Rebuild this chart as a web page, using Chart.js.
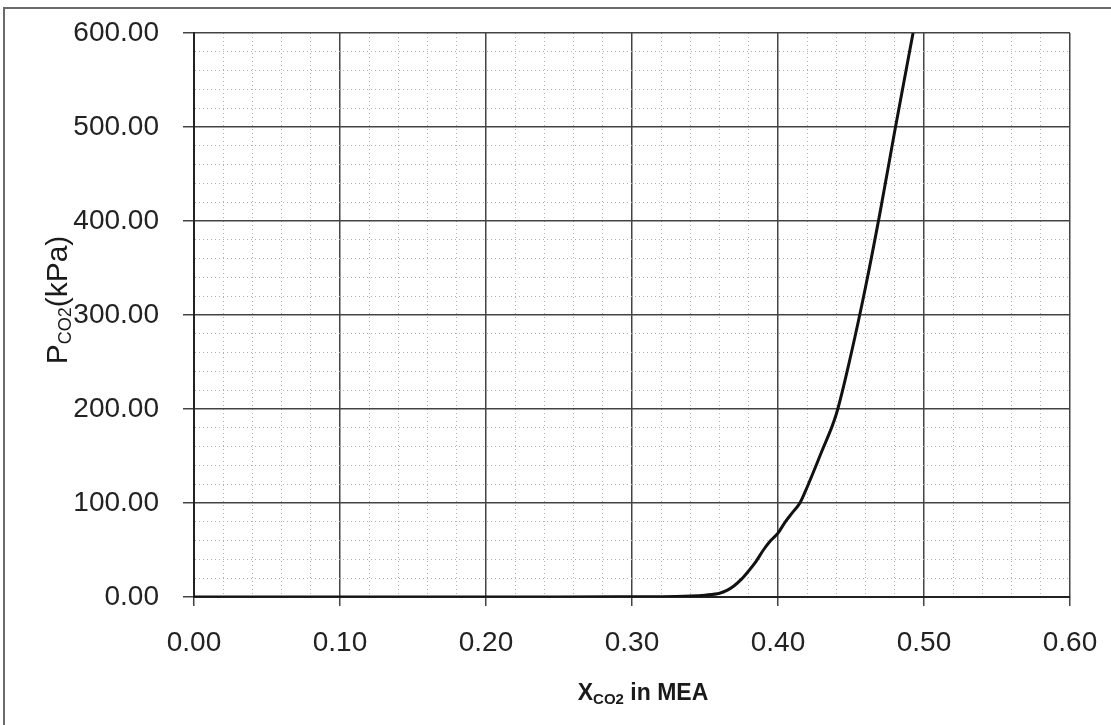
<!DOCTYPE html>
<html>
<head>
<meta charset="utf-8">
<script src="https://cdn.jsdelivr.net/npm/chart.js@4/dist/chart.umd.min.js"></script>
<style>
  html, body { margin: 0; padding: 0; background: #fff; }
  #wrap { width: 1111px; height: 725px; position: relative; }
</style>
</head>
<body>
<div id="wrap"><canvas id="c" width="1111" height="725"></canvas></div>
<script>
// ---- data ----
const xCO2 = [0.00, 0.05, 0.10, 0.15, 0.20, 0.25, 0.30, 0.33, 0.34, 0.35, 0.36, 0.365, 0.37, 0.375, 0.38, 0.385, 0.39, 0.395, 0.40, 0.405, 0.41, 0.415, 0.42, 0.43, 0.44, 0.45, 0.46, 0.47, 0.48, 0.4925];
const pCO2 = [0, 0, 0, 0, 0, 0, 0.3, 0.6, 1, 2, 4, 7, 12, 19, 28, 38, 50, 60, 68, 80, 90, 100, 117, 155, 195, 258, 330, 410, 496, 600];
const xTickLabels = ['0.00', '0.10', '0.20', '0.30', '0.40', '0.50', '0.60'];
const yTickLabels = ['0.00', '100.00', '200.00', '300.00', '400.00', '500.00', '600.00'];
const xTitleMain = 'X', xTitleSub = 'CO2', xTitleRest = ' in MEA';
const yTitleMain = 'P', yTitleSub = 'CO2', yTitleRest = '(kPa)';

const points = xCO2.map((x, i) => ({ x: x, y: pCO2[i] }));

const FONT = '"Liberation Sans", Arial, sans-serif';
const isMajorX = v => Math.abs(Math.round(v * 100) % 10) === 0;
const isMajorY = v => Math.round(v) % 100 === 0;

const titlesPlugin = {
  id: 'titles',
  beforeDraw(chart) {
    const ctx = chart.ctx;
    ctx.save();
    ctx.fillStyle = '#fff';
    ctx.fillRect(0, 0, chart.width, chart.height);
    // outer frame
    ctx.strokeStyle = '#6a6a6a';
    ctx.lineWidth = 2;
    ctx.strokeRect(4, 8, chart.width + 20, chart.height + 20);
    ctx.restore();
  },
  afterDraw(chart) {
    const ctx = chart.ctx;
    ctx.save();
    ctx.fillStyle = '#1a1a1a';
    ctx.textBaseline = 'alphabetic';
    // x title
    const big = 'bold 23px ' + FONT, small = 'bold 15px ' + FONT;
    ctx.font = big; const w1 = ctx.measureText(xTitleMain).width;
    const w3 = ctx.measureText(xTitleRest).width;
    ctx.font = small; const w2 = ctx.measureText(xTitleSub).width;
    const total = w1 + w2 + w3;
    let x0 = 643 - total / 2;
    const by = 700;
    ctx.font = big; ctx.fillText(xTitleMain, x0, by);
    ctx.font = small; ctx.fillText(xTitleSub, x0 + w1, by + 4);
    ctx.font = big; ctx.fillText(xTitleRest, x0 + w1 + w2, by);
    // y title (rotated)
    const ybig = '30px ' + FONT, ysmall = '18px ' + FONT;
    ctx.font = ybig; const a1 = ctx.measureText(yTitleMain).width;
    const a3 = ctx.measureText(yTitleRest).width;
    ctx.font = ysmall; const a2 = ctx.measureText(yTitleSub).width;
    const ytot = a1 + a2 + a3;
    ctx.translate(67, 300);
    ctx.rotate(-Math.PI / 2);
    let s = -ytot / 2;
    ctx.font = ybig; ctx.fillText(yTitleMain, s, 0);
    ctx.font = ysmall; ctx.fillText(yTitleSub, s + a1, 4);
    ctx.font = ybig; ctx.fillText(yTitleRest, s + a1 + a2, 0);
    ctx.restore();
  }
};

new Chart(document.getElementById('c'), {
  type: 'scatter',
  data: {
    datasets: [{
      data: points,
      showLine: true,
      borderColor: '#111',
      borderWidth: 3,
      pointRadius: 0,
      tension: 0.3,
      cubicInterpolationMode: 'monotone'
    }]
  },
  options: {
    responsive: false,
    animation: false,
    layout: { padding: { top: 33, right: 41, left: 0, bottom: 0 } },
    plugins: { legend: { display: false }, tooltip: { enabled: false } },
    scales: {
      x: {
        type: 'linear', min: 0, max: 0.6,
        afterFit: s => { s.height = 128; s.paddingLeft = 0; s.paddingRight = 0; },
        ticks: {
          stepSize: 0.02, autoSkip: false, maxRotation: 0,
          font: { family: FONT, size: 28 }, color: '#222', padding: 20,
          callback: v => isMajorX(v) ? xTickLabels[Math.round(v * 10)] : ''
        },
        grid: {
          color: c => isMajorX(c.tick.value) ? '#444' : '#b0b0b0',
          lineWidth: c => isMajorX(c.tick.value) ? 1.5 : 1,
          tickColor: c => isMajorX(c.tick.value) ? '#444' : 'rgba(0,0,0,0)',
          tickLength: 9
        },
        border: {
          display: true, color: '#222', width: 2,
          dash: c => (c.tick && !isMajorX(c.tick.value)) ? [1, 3] : []
        }
      },
      y: {
        type: 'linear', min: 0, max: 600,
        afterFit: s => { s.width = 194; s.paddingTop = 0; s.paddingBottom = 0; },
        ticks: {
          stepSize: 20, autoSkip: false,
          font: { family: FONT, size: 28 }, color: '#222', padding: 24,
          callback: v => isMajorY(v) ? yTickLabels[Math.round(v / 100)] : ''
        },
        grid: {
          color: c => isMajorY(c.tick.value) ? '#444' : '#b0b0b0',
          lineWidth: c => isMajorY(c.tick.value) ? 1.5 : 1,
          tickColor: c => isMajorY(c.tick.value) ? '#444' : 'rgba(0,0,0,0)',
          tickLength: 11
        },
        border: {
          display: true, color: '#222', width: 2,
          dash: c => (c.tick && !isMajorY(c.tick.value)) ? [1, 3] : []
        }
      }
    }
  },
  plugins: [titlesPlugin]
});
</script>
</body>
</html>
